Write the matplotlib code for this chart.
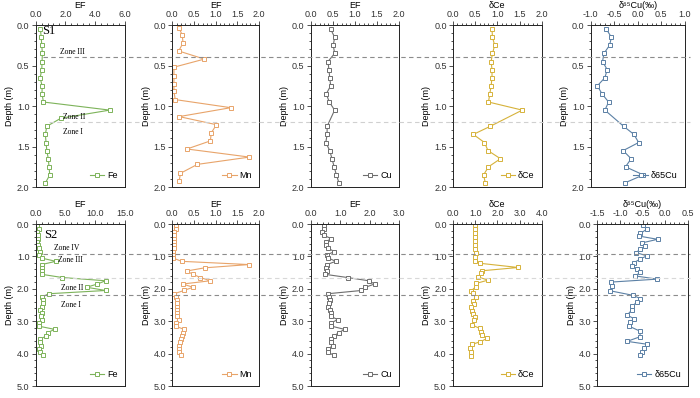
import matplotlib
matplotlib.use("Agg")
import matplotlib.pyplot as plt
import matplotlib.transforms as mtransforms
from matplotlib.lines import Line2D
from matplotlib.ticker import MultipleLocator, FormatStrFormatter

plt.rcParams['font.family'] = ['Liberation Sans', 'DejaVu Sans']
plt.rcParams['axes.unicode_minus'] = False
plt.rcParams['font.size'] = 6.5

# ---- S1 core (top row) ----
s1_depth = [0.05, 0.15, 0.25, 0.35, 0.45, 0.55, 0.65, 0.75, 0.85, 0.95,
            1.05, 1.15, 1.25, 1.35, 1.45, 1.55, 1.65, 1.75, 1.85, 1.95]
s1_fe = [0.32, 0.37, 0.41, 0.45, 0.43, 0.41, 0.30, 0.43, 0.43, 0.52,
         5.0, 1.7, 0.75, 0.65, 0.70, 0.75, 0.85, 0.90, 0.95, 0.65]
s1_mn_depth = [0.03, 0.12, 0.22, 0.32, 0.42, 0.52, 0.63, 0.73, 0.82, 0.92,
               1.02, 1.13, 1.23, 1.33, 1.43, 1.53, 1.63, 1.72, 1.83, 1.93]
s1_mn = [0.15, 0.23, 0.25, 0.15, 0.74, 0.04, 0.04, 0.04, 0.04, 0.07,
         1.35, 0.16, 1.02, 0.90, 0.88, 0.34, 1.78, 0.58, 0.19, 0.16]
# Cu, Ce and d65Cu have no sample at 1.15 m
s1_gap_depth = [0.05, 0.15, 0.25, 0.35, 0.45, 0.55, 0.65, 0.75, 0.85, 0.95,
                1.05, 1.25, 1.35, 1.45, 1.55, 1.65, 1.75, 1.85, 1.95]
s1_cu = [0.45, 0.54, 0.51, 0.54, 0.39, 0.41, 0.43, 0.45, 0.35, 0.42,
         0.54, 0.37, 0.37, 0.34, 0.43, 0.48, 0.53, 0.58, 0.64]
s1_ce = [0.88, 0.89, 0.94, 0.89, 0.86, 0.88, 0.88, 0.86, 0.83, 0.80,
         1.56, 0.84, 0.46, 0.71, 0.79, 1.07, 0.80, 0.69, 0.73]
s1_d65cu = [-0.67, -0.56, -0.60, -0.72, -0.75, -0.65, -0.70, -0.86, -0.76, -0.62,
            -0.70, -0.30, -0.08, 0.02, -0.31, -0.14, -0.26, 0.12, -0.28]

# ---- S2 core (bottom row) ----
s2_depth = [0.05, 0.15, 0.25, 0.35, 0.45, 0.55, 0.65, 0.75, 0.85, 0.95,
            1.05, 1.15, 1.25, 1.35, 1.45, 1.55, 1.65, 1.75, 1.85, 1.95,
            2.05, 2.15, 2.25, 2.35, 2.45, 2.55, 2.65, 2.75, 2.85, 2.95,
            3.05, 3.15, 3.25, 3.35, 3.45, 3.55, 3.65, 3.75, 3.85, 3.95, 4.05]
s2_fe = [0.3, 0.5, 0.3, 0.4, 0.4, 0.3, 0.4, 0.5, 0.8, 0.6,
         1.0, 3.4, 1.0, 1.0, 1.0, 1.0, 4.5, 11.8, 10.4, 8.6,
         11.8, 2.2, 1.1, 1.3, 1.2, 1.1, 0.8, 1.0, 0.9, 1.0,
         0.5, 0.5, 3.2, 2.0, 1.8, 0.8, 0.7, 0.9, 0.6, 0.8, 1.2]
s2_mn = [0.08, 0.08, 0.05, 0.03, 0.05, 0.04, 0.03, 0.03, 0.02, 0.02,
         0.02, 0.22, 1.77, 0.75, 0.33, 0.48, 0.65, 0.88, 0.24, 0.48,
         0.27, 0.05, 0.08, 0.12, 0.10, 0.10, 0.10, 0.12, 0.12, 0.15,
         0.08, 0.08, 0.27, 0.24, 0.22, 0.20, 0.18, 0.15, 0.15, 0.15, 0.20]
s2_cu = [0.46, 0.45, 0.38, 0.45, 0.70, 0.50, 0.50, 0.60, 0.80, 0.55,
         0.60, 0.85, 0.55, 0.52, 0.55, 0.48, 1.25, 1.97, 2.17, 1.86,
         1.72, 0.58, 0.62, 0.65, 0.62, 0.58, 0.65, 0.68, 0.68, 0.92,
         0.68, 0.70, 1.15, 0.95, 0.80, 0.68, 0.70, 0.75, 0.60, 0.58, 0.78]
s2_ce_depth = [0.03, 0.16, 0.29, 0.41, 0.51, 0.65, 0.78, 0.88, 1.01, 1.13,
               1.21, 1.34, 1.44, 1.52, 1.63, 1.73, 1.83, 1.93, 2.06, 2.14,
               2.24, 2.37, 2.47, 2.57, 2.67, 2.78, 2.88, 2.96, 3.12, 3.22,
               3.32, 3.43, 3.53, 3.63, 3.71, 3.84, 3.94, 4.06]
s2_ce = [0.98, 0.98, 1.01, 0.98, 1.01, 0.98, 1.01, 1.03, 1.01, 0.98,
         1.21, 2.94, 1.33, 1.28, 1.13, 1.58, 1.06, 1.03, 0.83, 0.91,
         1.03, 0.91, 0.94, 0.83, 0.88, 0.91, 0.98, 0.94, 0.88, 1.21,
         1.28, 1.33, 1.54, 1.24, 0.88, 0.78, 0.83, 0.83]
s2_d65_depth = [0.03, 0.16, 0.29, 0.37, 0.47, 0.58, 0.67, 0.78, 0.88, 0.98,
                1.08, 1.19, 1.29, 1.39, 1.49, 1.60, 1.70, 1.79, 1.92, 2.06,
                2.20, 2.30, 2.40, 2.54, 2.64, 2.81, 2.92, 3.02, 3.15, 3.31,
                3.48, 3.62, 3.71, 3.82, 3.95, 4.05]
s2_d65cu = [-0.49, -0.41, -0.55, -0.58, -0.17, -0.51, -0.44, -0.56, -0.64, -0.41,
            -0.55, -0.69, -0.73, -0.63, -0.55, -0.66, -0.18, -1.19, -1.17, -1.21,
            -0.71, -0.55, -0.62, -0.73, -0.73, -0.84, -0.69, -0.77, -0.80, -0.55,
            -0.56, -0.84, -0.40, -0.47, -0.51, -0.55]

fe_color = '#7DB35A'
mn_color = '#E8A46A'
cu_color = '#6E6E6E'
ce_color = '#D6B23A'
d65_color = '#5B80A5'

fig = plt.figure(figsize=(7.0, 3.98), dpi=100)

top_y, bot_y, h = 0.530, 0.030, 0.407
cols_top = [(0.051, 0.127), (0.246, 0.124), (0.444, 0.126), (0.647, 0.127), (0.844, 0.134)]
cols_bot = [(0.051, 0.127), (0.246, 0.124), (0.444, 0.126), (0.647, 0.127), (0.853, 0.130)]


def draw_panel(pos, x, y, color, label, xlim, xstep, ymax, ystep, yminor, xlabel):
    ax = fig.add_axes(pos)
    ax.plot(x, y, '-s', color=color, lw=0.8, ms=3, mfc='white', mec=color,
            mew=0.7, label=label)
    ax.set_xlim(xlim)
    ax.set_ylim(ymax, 0)
    ax.xaxis.tick_top()
    ax.xaxis.set_label_position('top')
    ax.set_xlabel(xlabel, labelpad=1.5)
    ax.set_ylabel('Depth (m)', labelpad=2)
    ax.xaxis.set_major_locator(MultipleLocator(xstep))
    ax.xaxis.set_minor_locator(MultipleLocator(xstep / 5))
    ax.xaxis.set_major_formatter(FormatStrFormatter('%.1f'))
    ax.yaxis.set_major_locator(MultipleLocator(ystep))
    ax.yaxis.set_minor_locator(MultipleLocator(yminor))
    ax.yaxis.set_major_formatter(FormatStrFormatter('%.1f'))
    ax.tick_params(which='both', direction='out', width=0.6, colors='#333333',
                   labelsize=6.5, pad=1.5)
    ax.tick_params(which='major', length=3)
    ax.tick_params(which='minor', length=1.5)
    for sp in ax.spines.values():
        sp.set_linewidth(0.7)
        sp.set_color('#222222')
    ax.legend(loc='lower right', frameon=False, fontsize=6.5, handlelength=1.6,
              handletextpad=0.3, borderaxespad=0.4)
    return ax


def pos(col, row_y):
    return [col[0], row_y, col[1], h]


# top row
ax_fe1 = draw_panel(pos(cols_top[0], top_y), s1_fe, s1_depth, fe_color, 'Fe',
                    (0, 6), 2.0, 2.0, 0.5, 0.1, 'EF')
draw_panel(pos(cols_top[1], top_y), s1_mn, s1_mn_depth, mn_color, 'Mn',
           (0, 2), 0.5, 2.0, 0.5, 0.1, 'EF')
draw_panel(pos(cols_top[2], top_y), s1_cu, s1_gap_depth, cu_color, 'Cu',
           (0, 2), 0.5, 2.0, 0.5, 0.1, 'EF')
draw_panel(pos(cols_top[3], top_y), s1_ce, s1_gap_depth, ce_color, 'δCe',
           (0, 2), 0.5, 2.0, 0.5, 0.1, 'δCe')
draw_panel(pos(cols_top[4], top_y), s1_d65cu, s1_gap_depth, d65_color, 'δ65Cu',
           (-1, 1), 0.5, 2.0, 0.5, 0.1, 'δ⁶⁵Cu(‰)')

# bottom row
ax_fe2 = draw_panel(pos(cols_bot[0], bot_y), s2_fe, s2_depth, fe_color, 'Fe',
                    (0, 15), 5.0, 5.0, 1.0, 0.2, 'EF')
draw_panel(pos(cols_bot[1], bot_y), s2_mn, s2_depth, mn_color, 'Mn',
           (0, 2), 0.5, 5.0, 1.0, 0.2, 'EF')
draw_panel(pos(cols_bot[2], bot_y), s2_cu, s2_depth, cu_color, 'Cu',
           (0, 3), 1.0, 5.0, 1.0, 0.2, 'EF')
draw_panel(pos(cols_bot[3], bot_y), s2_ce, s2_ce_depth, ce_color, 'δCe',
           (0, 4), 1.0, 5.0, 1.0, 0.2, 'δCe')
draw_panel(pos(cols_bot[4], bot_y), s2_d65cu, s2_d65_depth, d65_color, 'δ65Cu',
           (-1.5, 0.5), 0.5, 5.0, 1.0, 0.2, 'δ⁶⁵Cu(‰)')


# zone boundaries run across the whole figure
def zone_line(ax, depth, color, x0):
    trans = mtransforms.blended_transform_factory(fig.transFigure, ax.transData)
    fig.add_artist(Line2D([x0, 0.985], [depth, depth], transform=trans,
                          color=color, lw=0.8, ls=(0, (4, 3))))


zone_line(ax_fe1, 0.4, '#8C8C8C', 0.062)
zone_line(ax_fe1, 1.2, '#D0D0D0', 0.07)
zone_line(ax_fe2, 0.92, '#8C8C8C', 0.062)
zone_line(ax_fe2, 1.65, '#D8D8D8', 0.07)
zone_line(ax_fe2, 2.2, '#8C8C8C', 0.062)

serif = ['Liberation Serif', 'DejaVu Serif']
zone_kw = dict(family=serif, fontsize=5.5, ha='center', va='center')
ax_fe1.text(0.4, 0.07, 'S1', family=serif, fontsize=9, va='center')
ax_fe1.text(2.45, 0.33, 'Zone III', **zone_kw)
ax_fe1.text(2.6, 1.14, 'Zone II', **zone_kw)
ax_fe1.text(2.5, 1.32, 'Zone I', **zone_kw)

ax_fe2.text(1.4, 0.34, 'S2', family=serif, fontsize=9, va='center')
ax_fe2.text(5.3, 0.74, 'Zone IV', **zone_kw)
ax_fe2.text(5.8, 1.11, 'Zone III', **zone_kw)
ax_fe2.text(6.2, 1.98, 'Zone II', **zone_kw)
ax_fe2.text(6.0, 2.5, 'Zone I', **zone_kw)

fig.savefig('out.png', dpi=100)
